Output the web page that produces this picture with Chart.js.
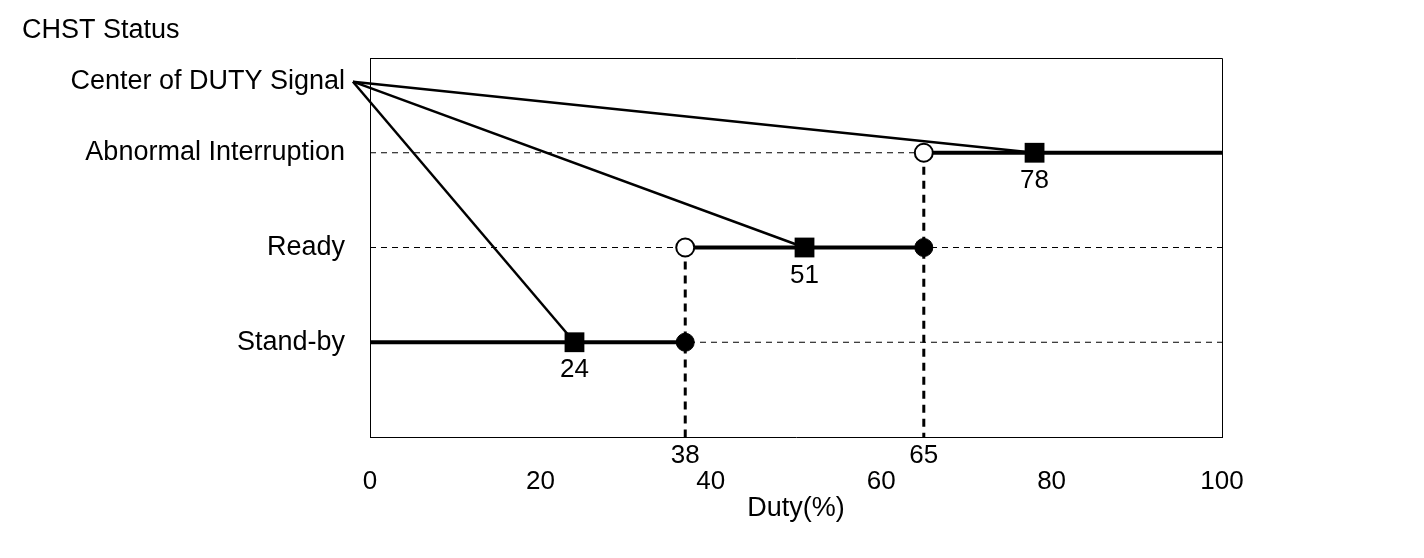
<!DOCTYPE html>
<html>
<head>
<meta charset="utf-8">
<script src="https://cdn.jsdelivr.net/npm/chart.js@4.4.0/dist/chart.umd.min.js"></script>
<style>
  html, body { margin: 0; padding: 0; background: #fff; }
  #wrap { width: 1424px; height: 558px; }
</style>
</head>
<body>
<div id="wrap"><canvas id="myChart" width="1424" height="558"></canvas></div>
<script>
// status levels on the vertical axis
const statusNames = ['Stand-by', 'Ready', 'Abnormal Interruption', 'Center of DUTY Signal'];
const statusLevels = [1, 2, 3, 3.75];

// where the diagonals start (just left of the frame)
const centerDuty = -2;

// switching points (square marks) per state
const switchDuty = [24, 51, 78];
const switchLabels = ['24', '51', '78'];

// boundaries between states (circles + vertical dashed lines)
const boundaryDuty = [37, 65];
const boundaryLabels = ['38', '65'];

const xTicks = [0, 20, 40, 60, 80, 100];

const ctx = document.getElementById('myChart');
const FONT = 'Liberation Sans, Arial, sans-serif';

const datasets = [];

// markers first so they are drawn on top
datasets.push({
    data: switchDuty.map((d, i) => ({ x: d, y: statusLevels[i] })),
    showLine: false, pointStyle: 'rect', pointRadius: 14,
    backgroundColor: '#000', borderColor: '#000', borderWidth: 0
});
// open circles: lower edge of the higher state
datasets.push({
    data: [{ x: boundaryDuty[0], y: statusLevels[1] }, { x: boundaryDuty[1], y: statusLevels[2] }],
    showLine: false, pointStyle: 'circle', pointRadius: 9,
    backgroundColor: '#fff', borderColor: '#000', borderWidth: 2
});
// filled circles: upper edge of the lower state
datasets.push({
    data: [{ x: boundaryDuty[0], y: statusLevels[0] }, { x: boundaryDuty[1], y: statusLevels[1] }],
    showLine: false, pointStyle: 'circle', pointRadius: 9,
    backgroundColor: '#000', borderColor: '#000', borderWidth: 1
});

// solid state segments
const segs = [
    [xTicks[0], boundaryDuty[0], statusLevels[0]],
    [boundaryDuty[0], boundaryDuty[1], statusLevels[1]],
    [boundaryDuty[1], xTicks[xTicks.length - 1], statusLevels[2]]
];
segs.forEach(s => datasets.push({
    data: [{ x: s[0], y: s[2] }, { x: s[1], y: s[2] }],
    showLine: true, borderColor: '#000', borderWidth: 4, pointRadius: 0
}));

// diagonals from the duty signal center
switchDuty.forEach((d, i) => datasets.push({
    data: [{ x: centerDuty, y: statusLevels[3] }, { x: d, y: statusLevels[i] }],
    showLine: true, borderColor: '#000', borderWidth: 2.5, pointRadius: 0
}));

// vertical dashed lines at the boundaries
boundaryDuty.forEach((d, i) => datasets.push({
    data: [{ x: d, y: statusLevels[i + 1] }, { x: d, y: 0 }],
    showLine: true, borderColor: '#000', borderWidth: 3, borderDash: [8, 6], pointRadius: 0
}));

// thin dashed guides for each state
statusLevels.slice(0, 3).forEach(v => datasets.push({
    data: [{ x: xTicks[0], y: v }, { x: xTicks[xTicks.length - 1], y: v }],
    showLine: true, borderColor: '#000', borderWidth: 1, borderDash: [6, 5], pointRadius: 0
}));

datasets.forEach(ds => { ds.clip = false; ds.pointHoverRadius = ds.pointRadius; });

const annotate = {
    id: 'annotate',
    afterDraw(chart) {
        const c = chart.ctx, area = chart.chartArea;
        const xs = chart.scales.x, ys = chart.scales.y;
        c.save();
        // frame top / right
        c.strokeStyle = '#000';
        c.lineWidth = 1;
        c.beginPath();
        c.moveTo(area.left, area.top + 0.5);
        c.lineTo(area.right + 0.5, area.top + 0.5);
        c.lineTo(area.right + 0.5, area.bottom);
        c.stroke();
        c.fillStyle = '#000';
        c.textAlign = 'center';
        c.textBaseline = 'middle';
        c.font = '26px ' + FONT;
        switchDuty.forEach((d, i) => {
            c.fillText(switchLabels[i], xs.getPixelForValue(d), ys.getPixelForValue(statusLevels[i]) + 28);
        });
        boundaryDuty.forEach((d, i) => {
            c.fillText(boundaryLabels[i], xs.getPixelForValue(d), area.bottom + 19);
        });
        c.textAlign = 'left';
        c.font = '27px ' + FONT;
        c.fillText('CHST Status', 22, 31);
        c.restore();
    }
};

new Chart(ctx, {
    type: 'scatter',
    data: { datasets: datasets },
    plugins: [annotate],
    options: {
        responsive: false,
        animation: false,
        events: [],
        layout: { padding: { top: 58, right: 202, bottom: 0, left: 0 } },
        plugins: { legend: { display: false }, tooltip: { enabled: false } },
        scales: {
            x: {
                type: 'linear', min: 0, max: 100,
                afterBuildTicks: s => { s.ticks = xTicks.map(v => ({ value: v })); },
                afterFit: s => { s.height = 121; },
                grid: { display: false },
                border: { display: true, color: '#000', width: 1 },
                ticks: { color: '#000', padding: 21, maxRotation: 0, font: { family: FONT, size: 26 } },
                title: { display: true, text: 'Duty(%)', color: '#000', font: { family: FONT, size: 27 },
                         padding: { top: 0, bottom: 33 } }
            },
            y: {
                type: 'linear', min: 0, max: 4,
                afterBuildTicks: s => { s.ticks = statusLevels.map(v => ({ value: v })); },
                afterFit: s => { s.width = 370; },
                grid: { display: false },
                border: { display: true, color: '#000', width: 1 },
                ticks: {
                    color: '#000', padding: 17, font: { family: FONT, size: 27 },
                    callback: v => statusNames[statusLevels.indexOf(v)]
                }
            }
        }
    }
});
</script>
</body>
</html>
